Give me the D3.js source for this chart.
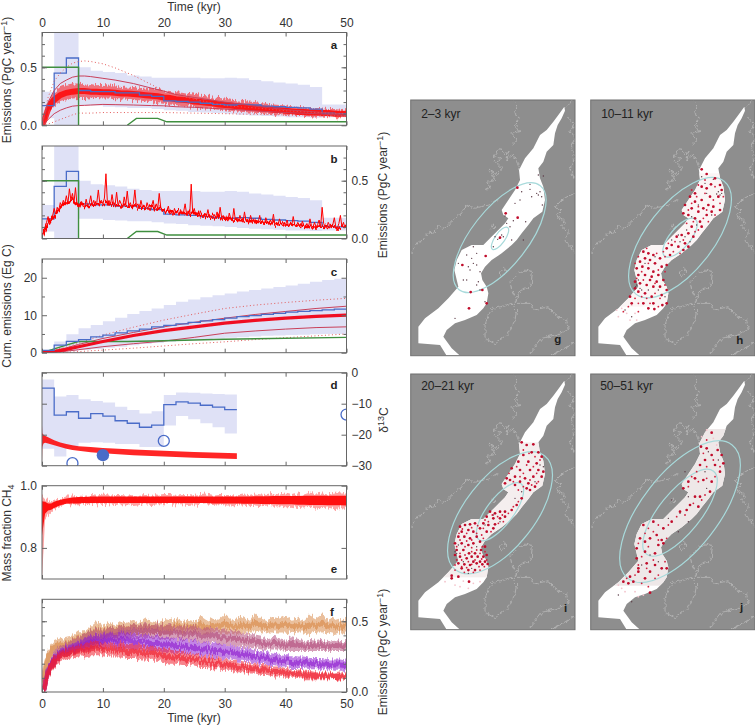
<!DOCTYPE html>
<html>
<head>
<meta charset="utf-8">
<script src="https://cdn.jsdelivr.net/npm/d3@7"></script>
<style>
  html, body { margin: 0; padding: 0; background: #fff; }
  svg text { font-family: "Liberation Sans", Arial, sans-serif; font-size: 12px; fill: #333; }
  svg text.letter { font-weight: bold; font-size: 11.5px; fill: #222; }
</style>
</head>
<body>
<svg id="chart" width="755" height="725">
  <defs>
    <!-- streaky texture so the ensemble bands read as many overlaid runs -->
    <filter id="fuzz" x="-5%" y="-30%" width="110%" height="160%" color-interpolation-filters="sRGB">
      <feTurbulence type="fractalNoise" baseFrequency="0.6 0.04" numOctaves="2" seed="4" result="n"/>
      <feColorMatrix in="n" type="matrix" values="0 0 0 0 0.5  1 0 0 0 0  0 0 0 0 0.5  0 0 0 0 1" result="m"/>
      <feDisplacementMap in="SourceGraphic" in2="m" scale="10" xChannelSelector="R" yChannelSelector="G"/>
      <feGaussianBlur stdDeviation="0.5"/>
    </filter>
    <filter id="jag" x="-5%" y="-5%" width="110%" height="110%" color-interpolation-filters="sRGB">
      <feTurbulence type="fractalNoise" baseFrequency="0.3" numOctaves="2" seed="9" result="n"/>
      <feDisplacementMap in="SourceGraphic" in2="n" scale="5" xChannelSelector="R" yChannelSelector="G"/>
      <feGaussianBlur stdDeviation="0.3"/>
    </filter>
    <filter id="soft"><feGaussianBlur stdDeviation="0.6"/></filter>
    <filter id="dot" x="-5%" y="-5%" width="110%" height="110%"><feGaussianBlur stdDeviation="0.3"/></filter>
  </defs>
</svg>
<script>
// time bins, 2 kyr wide (last one repeated so the step curves close at 50)
const bins = d3.range(0, 52, 2);
const dBins = d3.range(0, 34, 2);

const emisBandHi = [.29,.8,.8,.5,.47,.46,.45,.43,.42,.41,.41,.41,.41,.405,.405,.41,.405,.39,.38,.37,.36,.35,.33,.18,.18,.18];
const emisBandLo = [.06,0,0,.17,.17,.16,.155,.15,.15,.14,.13,.125,.115,.11,.105,.1,.09,.085,.08,.075,.07,.07,.065,.07,.07,.07];
const emisBlue = [.17,.45,.58,.3,.29,.29,.28,.28,.26,.25,.21,.205,.2,.19,.18,.175,.18,.175,.165,.16,.155,.15,.14,.105,.1,.1];

const greenT = [0,6,6];
const greenV = [.5,.5,0];
const greenT2 = [14,15.5,19,20.5,50];
const greenV2 = [0,.06,.06,.03,.03];

// model percentiles in panel a
const pctT = [0,.5,1,2,3,4,5,6,7,8,10,12,15,18,20,22,25,30,35,40,45,50];
const pctHi = [0,.1,.2,.3,.36,.39,.415,.425,.425,.42,.405,.39,.36,.32,.295,.265,.24,.2,.165,.135,.115,.095];
const pctLo = [0,.02,.05,.1,.13,.15,.165,.17,.172,.175,.18,.178,.175,.17,.168,.16,.155,.14,.125,.11,.1,.085];
const dotHi = [0,.13,.24,.38,.45,.5,.535,.55,.555,.55,.53,.495,.43,.35,.295,.26,.225,.17,.15,.125,.11,.1];
const dotLo = [0,.005,.01,.03,.05,.07,.09,.105,.105,.105,.11,.11,.11,.11,.11,.108,.105,.1,.095,.09,.085,.08];

// shared time grid of the fuzzy ensemble bands
const grid = [0,.5,1,1.5,2].concat(d3.range(3, 51));
const emisHi = [0,.1,.2,.25,.29,.33,.35,.36,.36,.35,.355,.345,.35,.34,.345,.33,.335,.33,.32,.325,.31,.315,.3,.295,.285,.28,.27,.265,.255,.25,.24,.235,.23,.22,.215,.21,.205,.2,.19,.185,.18,.175,.17,.165,.16,.155,.15,.15,.145,.14,.14,.135,.13];
const emisLo = [0,.03,.1,.14,.17,.2,.215,.23,.235,.235,.23,.235,.23,.23,.225,.225,.22,.215,.215,.205,.2,.19,.185,.18,.175,.165,.165,.155,.15,.145,.14,.135,.13,.125,.12,.115,.11,.105,.105,.1,.095,.09,.09,.085,.08,.08,.075,.075,.075,.07,.07,.07,.065];
const emisCore = [0,.06,.14,.19,.22,.26,.28,.29,.295,.295,.29,.29,.285,.285,.28,.275,.275,.27,.265,.26,.255,.25,.24,.235,.225,.22,.215,.205,.2,.195,.19,.18,.175,.17,.165,.16,.155,.15,.145,.14,.135,.13,.125,.12,.115,.115,.11,.11,.105,.105,.1,.1,.1];

// single run in panel b, one value every 0.25 kyr
const runStep = 0.25;
const runValues = [
  0,.06,.1,.14,.19,.12,.17,.2,.26,.21,.27,.24,.31,.28,.33,.3,.37,.3,.43,.33,
  .39,.31,.44,.29,.3,.27,.32,.28,.27,.34,.28,.3,.37,.29,.33,.28,.31,.42,.3,.33,
  .3,.35,.56,.3,.33,.29,.38,.3,.29,.4,.28,.33,.3,.27,.36,.29,.41,.28,.31,.27,
  .3,.42,.28,.3,.26,.33,.27,.29,.25,.31,.27,.24,.28,.33,.25,.3,.26,.39,.27,.23,
  .25,.22,.24,.28,.21,.23,.2,.26,.22,.24,.2,.25,.21,.23,.3,.21,.24,.2,.47,.22,
  .26,.2,.22,.19,.24,.2,.18,.22,.19,.25,.18,.2,.17,.21,.18,.23,.17,.27,.18,.2,
  .16,.19,.15,.22,.17,.15,.26,.16,.18,.15,.2,.16,.14,.23,.15,.17,.14,.2,.15,.17,
  .13,.16,.14,.2,.13,.15,.12,.18,.14,.12,.16,.13,.21,.12,.14,.11,.17,.13,.11,.14,
  .12,.16,.1,.13,.11,.19,.12,.1,.14,.11,.09,.15,.11,.1,.13,.09,.17,.11,.1,.14,
  .1,.12,.16,.1,.27,.13,.1,.09,.14,.11,.09,.12,.18,.1,.09,.13,.2,.1,.14,.09,.11
];
const runBaseT = [0,1,2,3,4,5,6,8,10,12,15,18,20,22,25,28,30,33,36,40,44,47,50];
const runBase = [.02,.13,.2,.26,.31,.33,.29,.29,.3,.29,.28,.265,.25,.23,.21,.185,.17,.155,.14,.12,.105,.1,.09];

// panel c, cumulative emissions
const cumBandHi = [.7,3,4.9,6.5,7.4,8.4,9.3,10.3,11.1,11.8,12.7,13.6,14.2,14.8,15.3,15.8,16.3,16.7,17.1,17.5,17.9,18.4,18.9,19.4,19.7,19.7];
const cumBandLo = [0,.1,.4,.7,1,1.3,1.6,2,2.3,2.6,2.9,3.2,3.4,3.6,3.8,4,4.1,4.3,4.5,4.6,4.7,4.8,4.9,5,5,5];
const cumBlue = [.6,2,3,3.5,4.2,4.7,5.3,5.8,6.3,6.9,7.3,7.7,8.1,8.5,8.8,9.2,9.6,9.9,10.2,10.5,10.8,11,11.2,11.4,11.6,11.6];
const cumT = [0,2,4,6,10,15,20,25,30,35,40,45,50];
const cumRed = [0,.3,.9,1.6,3,4.6,5.9,6.9,7.9,8.6,9.2,9.7,10];
const cumPctHi = [0,.5,1.3,2.2,3.8,5.4,6.9,8.1,9.2,10.2,11,11.8,12.4];
const cumPctLo = [0,.1,.4,.8,1.6,2.4,3.1,4.1,5.2,5.8,6.3,6.7,6.9];
const cumDotHi = [0,.7,1.5,2.5,4.7,6.8,8.7,10.3,11.8,12.7,13.4,14,14.5];
const cumDotLo = [0,0,.1,.3,.7,1.2,1.8,2.4,2.9,3.5,4,4.5,5];
const cumGreenT = [0,2,4,6,8,14,16,20,30,50];
const cumGreenV = [0,1,2,3,3,3,3.05,3.2,3.6,4.1];

// panel d, carbon isotopes
const isoBandHi = [-2.2,-7.7,-7.2,-8.6,-9.1,-9.6,-11,-12,-13.2,-12.4,-7.2,-6.4,-6.5,-6.7,-6.9,-7,-7];
const isoBandLo = [-24.5,-27,-24,-22.6,-22.4,-22.6,-23,-23,-24,-24,-17,-14,-15,-16.3,-17.6,-19.6,-19.6];
const isoBlue = [-5,-13.7,-12.6,-14.7,-13.2,-14,-15.5,-16.3,-17.6,-16.9,-10.3,-9.4,-9.8,-10.5,-11.1,-11.9,-11.9];
const isoT = [0,.05,.25,.5,1,2,3,4,5,6,8,10,15,20,25,32];
const isoHi = [-17,-19.5,-20,-20.3,-20.8,-21.8,-22.5,-23,-23.4,-23.7,-24,-24.3,-24.8,-25.2,-25.6,-26];
const isoLo = [-29,-24,-22.8,-22.6,-22.8,-23.4,-24,-24.5,-24.9,-25.2,-25.7,-26,-26.6,-27,-27.4,-27.8];
const openCircles = [[5,-29.2],[20,-22],[50,-13.5]];
const filledCircles = [[10,-26.6]];

// panel e, mass fraction
const fracHi = [.97,.96,.95,.95,.955,.96,.965,.965,.968,.968,.97,.968,.972,.968,.97,.97,.968,.97,.968,.97,.972,.968,.97,.97,.968,.97,.97,.968,.97,.972,.968,.97,.97,.97,.968,.972,.97,.975,.972,.97,.975,.972,.975,.97,.975,.972,.978,.972,.975,.972,.978,.975,.975];
const fracLo = [.7,.89,.905,.915,.925,.935,.94,.94,.94,.942,.94,.94,.938,.94,.938,.94,.94,.938,.94,.94,.938,.94,.94,.938,.94,.94,.938,.94,.938,.94,.938,.94,.936,.936,.938,.936,.934,.936,.934,.936,.932,.934,.93,.932,.928,.93,.932,.926,.928,.93,.924,.928,.925];
const fracCoreHi = [.95,.948,.943,.943,.948,.955,.959,.962,.964,.964,.965,.965,.965,.965,.965,.965,.965,.965,.965,.965,.965,.965,.965,.965,.965,.965,.965,.965,.965,.965,.965,.965,.965,.965,.965,.965,.965,.966,.966,.966,.967,.967,.967,.967,.967,.968,.968,.968,.968,.968,.968,.968,.968];
const fracCoreLo = [.84,.91,.92,.923,.928,.937,.942,.943,.943,.944,.944,.944,.944,.944,.944,.944,.944,.944,.944,.944,.944,.944,.944,.944,.944,.944,.944,.944,.944,.944,.943,.943,.943,.943,.943,.942,.942,.942,.941,.941,.941,.94,.94,.94,.939,.939,.938,.938,.938,.937,.937,.937,.936];

// panel f, four ensembles
const orangeHi = [.1,.22,.3,.33,.36,.38,.39,.4,.43,.43,.46,.5,.47,.49,.47,.5,.49,.51,.49,.52,.5,.49,.51,.5,.52,.5,.51,.5,.53,.5,.52,.51,.55,.51,.52,.53,.5,.56,.52,.5,.53,.52,.54,.51,.52,.5,.54,.52,.55,.51,.53,.5,.52];
const orangeLo = [.05,.12,.2,.25,.27,.29,.3,.31,.33,.35,.36,.38,.39,.4,.4,.41,.4,.41,.41,.4,.41,.41,.41,.41,.42,.41,.42,.41,.42,.41,.42,.42,.42,.42,.41,.42,.42,.42,.43,.42,.42,.42,.42,.41,.42,.42,.41,.42,.42,.42,.41,.42,.42];
const mauveHi = [0,.1,.2,.25,.29,.33,.35,.37,.39,.41,.43,.45,.44,.46,.45,.47,.46,.48,.47,.49,.47,.48,.47,.48,.46,.47,.46,.47,.45,.46,.45,.44,.45,.43,.44,.42,.41,.4,.39,.38,.39,.38,.37,.38,.37,.36,.37,.36,.37,.36,.37,.36,.36];
const mauveLo = [0,.03,.1,.15,.19,.23,.25,.27,.28,.3,.31,.33,.34,.36,.36,.37,.37,.38,.38,.38,.38,.38,.37,.37,.37,.36,.36,.36,.35,.35,.35,.34,.33,.33,.32,.32,.31,.31,.3,.3,.3,.3,.29,.29,.29,.29,.29,.29,.29,.29,.29,.29,.29];
const purpleHi = [0,.08,.19,.24,.27,.31,.33,.34,.36,.38,.39,.41,.42,.42,.41,.42,.41,.41,.4,.41,.39,.4,.38,.39,.37,.38,.36,.37,.35,.36,.34,.35,.33,.33,.32,.31,.31,.29,.29,.28,.27,.27,.26,.26,.25,.25,.24,.24,.24,.23,.23,.23,.22];
const purpleLo = [0,.02,.1,.15,.19,.23,.26,.27,.28,.29,.3,.31,.31,.32,.31,.31,.31,.3,.3,.3,.29,.29,.28,.28,.27,.27,.26,.26,.25,.25,.24,.24,.23,.23,.22,.22,.21,.2,.2,.19,.19,.18,.18,.17,.17,.17,.16,.16,.16,.16,.15,.15,.15];
const redHi = [0,.08,.18,.23,.26,.29,.31,.32,.33,.34,.35,.36,.35,.35,.34,.35,.33,.34,.33,.32,.33,.31,.31,.3,.29,.29,.27,.27,.26,.25,.25,.24,.23,.22,.22,.21,.2,.2,.19,.19,.18,.18,.17,.16,.16,.15,.15,.14,.14,.14,.13,.14,.13];
const redLo = [0,.02,.09,.14,.18,.21,.23,.24,.25,.25,.26,.26,.26,.25,.25,.25,.24,.24,.23,.23,.22,.22,.21,.2,.2,.19,.19,.18,.17,.17,.16,.16,.15,.15,.14,.14,.13,.13,.12,.12,.11,.11,.1,.1,.1,.09,.09,.09,.09,.09,.09,.08,.08];

// map panels, all positions in the same map units
const shelfOutline = [[478,50],[480,62],[470,85],[458,105],[450,130],[445,165],[425,185],[415,215],[400,235],[405,265],[415,290],[420,330],[412,365],[385,385],[370,405],[350,430],[335,450],[320,465],[290,490],[260,510],[240,530],[228,550],[232,570],[245,590],[250,610],[245,640],[235,655],[215,675],[180,690],[150,700],[125,720],[115,740],[140,775],[165,797],[125,797],[105,765],[40,760],[40,710],[60,685],[100,655],[130,625],[160,590],[148,540],[155,510],[170,480],[200,465],[235,465],[255,445],[280,420],[300,400],[310,385],[295,375],[290,360],[310,330],[330,300],[345,270],[342,240],[360,205],[385,175],[405,135],[425,120],[445,95],[460,75]];
const coastLines = [
  [[17,490],[28,470],[40,452],[50,458],[60,440],[75,425],[85,430],[100,405],[112,415],[125,412],[140,395],[150,385],[165,375],[180,350],[190,345],[210,355],[228,350],[250,345],[265,335],[282,325]],
  [[240,300],[258,290],[245,278],[270,270],[255,240],[275,255],[290,235],[270,215],[290,205],[265,200],[285,175],[300,195],[312,180],[305,215],[322,190],[335,215],[345,240]],
  [[320,165],[335,150],[318,130],[345,125],[330,105],[342,85],[328,65],[335,45],[325,32]],
  [[510,30],[490,42],[470,62]],
  [[510,310],[490,318],[470,330],[450,352],[470,360],[455,378],[478,392],[470,410],[490,425],[480,450],[498,470],[510,488]],
  [[490,85],[510,100],[495,125],[510,145],[498,175],[510,200],[495,235],[508,265]],
  [[240,705],[250,675],[262,655],[290,650],[320,640],[335,660],[330,690],[310,730],[270,762],[240,745],[240,705]],
  [[335,552],[360,540],[382,545],[378,590],[345,602],[330,640],[375,640],[388,660],[430,650],[455,680],[485,690],[490,720],[450,735],[410,745],[375,790]],
  [[282,548],[298,530],[302,548],[288,558],[282,548]],
  [[330,560],[315,575],[320,600],[330,620]],
  [[262,402],[270,412],[258,418],[262,402]],
  [[510,755],[470,780],[435,797]]
];

const gEllipses = [[284,443,198,85,-52],[285,445,40,15,-55]];
const hEllipses = [[825,443,215,100,-52],[825,443,72,30,-50]];
const iEllipses = [[285,443,217,105,-52],[285,440,105,40,-53]];
const jEllipses = [[825,440,254,115,-52],[825,443,160,62,-51]];

const gBig = [[337,293],[302,370],[338,383],[172,525],[242,498],[197,606],[232,600],[245,640],[192,655],[285,443]];
const gMid = [];
const gSmall = [[375,283],[400,255],[415,258],[375,298],[345,330],[330,340],[300,378],[305,400],[325,392],[362,395],[350,305],[380,320],[400,315],[405,305],[395,310],[410,320],[412,345],[320,450],[315,410],[290,435],[283,445],[278,448],[295,440],[205,470],[215,490],[185,495],[205,520],[190,530],[160,520],[195,540],[225,545],[185,570],[220,575],[215,585],[175,570],[150,685],[265,470],[240,635],[270,440],[225,600],[355,450],[200,505],[215,525]];
const gPale = [];
const hBig = [[890,238],[905,252],[930,265],[945,285],[918,283],[905,295],[890,290],[870,310],[855,320],[840,345],[870,335],[890,330],[910,345],[925,350],[940,320],[950,300],[915,320],[895,355],[880,365],[860,355],[835,370],[850,375],[885,395],[870,385],[905,375],[920,365],[945,360],[890,410],[860,410],[850,430],[865,440],[830,435],[815,440],[800,465],[785,475],[795,495],[820,470],[840,460],[850,470],[835,480],[715,485],[730,490],[745,495],[720,505],[705,515],[735,510],[750,520],[765,505],[695,535],[712,530],[730,535],[745,545],[770,530],[785,525],[700,555],[720,555],[740,560],[760,555],[775,570],[690,575],[705,580],[725,585],[745,590],[765,590],[785,600],[700,605],[720,610],[740,620],[770,615],[690,595],[735,570],[755,575],[680,640],[675,620],[730,655],[748,657],[772,645],[785,640],[715,640],[745,640]];
const hMid = [[860,300],[880,285],[900,270],[930,290],[955,320],[945,340],[875,320],[900,310],[925,330],[860,340],[850,360],[880,350],[905,360],[930,375],[910,395],[895,385],[865,395],[880,420],[870,425],[845,400],[835,450],[810,455],[790,460],[775,485],[780,500],[805,485],[825,490],[700,500],[725,475],[755,490],[690,520],[710,545],[730,520],[760,540],[780,545],[695,565],[715,570],[750,580],[780,585],[710,620],[750,610],[765,625],[725,625],[700,640],[690,625],[760,650],[735,640],[670,650],[655,665],[700,665]];
const hSmall = [[925,268],[940,305],[945,315],[950,310],[935,312],[905,310],[880,345],[920,375],[860,380],[840,440],[855,455],[825,455],[845,420],[700,570],[695,585],[692,590],[710,600],[705,595],[720,520],[750,500],[760,600],[730,600],[780,620],[680,680],[660,660],[875,405],[820,435],[800,450],[890,260],[900,280]];
const hPale = [[650,655],[665,670],[640,680],[690,670],[680,645],[675,690],[695,690],[635,660]];
const iBig = [[350,232],[365,240],[385,238],[380,262],[400,262],[410,275],[355,270],[340,290],[370,290],[395,295],[320,310],[345,315],[375,315],[400,315],[415,320],[305,340],[330,335],[360,340],[385,335],[410,335],[345,350],[370,355],[390,365],[375,375],[365,370],[315,345],[330,360],[300,355],[350,400],[335,420],[320,435],[300,440],[285,440],[270,445],[255,440],[245,455],[265,460],[285,460],[300,455],[235,475],[250,480],[270,478],[225,490],[245,500],[265,490],[165,485],[180,480],[195,478],[210,475],[170,500],[190,495],[205,500],[160,515],[178,515],[195,520],[215,515],[150,535],[170,535],[190,540],[205,535],[225,530],[155,555],[175,555],[192,565],[210,565],[228,555],[240,545],[150,570],[165,575],[185,580],[200,575],[218,575],[235,575],[160,595],[178,598],[195,600],[215,595],[232,598],[248,597],[240,590],[205,590],[225,590],[245,570],[190,615],[170,610],[210,615],[140,632],[160,635],[192,650],[140,640]];
const iMid = [[172,492],[200,488],[218,482],[185,505],[162,505],[215,505],[230,510],[165,525],[185,528],[200,525],[235,520],[155,545],[180,545],[200,548],[215,555],[232,545],[165,565],[180,570],[200,560],[225,565],[240,560],[155,585],[170,585],[190,590],[210,585],[230,582],[245,585],[150,600],[170,605],[185,608],[200,598],[222,605],[238,605],[150,615],[178,622],[205,622],[225,615],[355,255],[372,265],[390,275],[365,300],[385,305],[405,285],[335,305],[355,325],[395,325],[312,325],[325,350],[345,335],[375,345],[400,350],[355,365],[395,355],[380,360],[340,375],[340,410],[325,425],[310,445],[292,450],[278,455],[262,450],[250,470],[235,490],[258,500],[280,475],[295,470],[240,465]];
const iSmall = [[405,300],[415,305],[285,440],[390,350],[150,560],[155,565],[175,590],[200,610],[190,625],[265,450],[350,380],[330,400],[285,470],[240,480],[160,540],[215,545]];
const iPale = [[165,665],[120,650],[190,670],[205,655],[150,660],[225,650],[175,648]];
const jBig = [[920,203],[888,245],[905,250],[938,255],[950,270],[920,270],[900,285],[955,295],[930,300],[885,300],[870,340],[850,350],[835,370],[895,345],[920,350],[945,320],[915,380],[885,395],[870,395],[855,420],[845,435],[880,425],[825,440],[800,470],[775,490],[745,470],[715,480],[705,520],[720,530],[735,520],[770,525],[755,510],[775,535],[695,550],[720,560],[750,565],[695,580],[725,595],[750,600],[770,610],[735,620],[785,610],[700,620],[675,635],[655,650],[685,650],[720,640],[735,683],[670,655],[700,610],[760,540]];
const jMid = [[905,225],[895,265],[925,285],[945,305],[905,305],[875,320],[860,335],[850,365],[880,350],[905,340],[930,335],[900,390],[890,405],[865,415],[840,450],[815,455],[790,480],[760,480],[730,490],[720,505],[745,500],[700,535],[730,545],[760,525],[785,520],[710,575],[745,585],[700,600],[725,610],[760,630],[690,630],[665,640],[710,655],[750,640],[780,590],[730,665]];
const jSmall = [[680,710],[640,690],[900,320],[910,260],[940,285],[840,320],[850,395],[850,470],[820,500],[760,590],[790,460],[710,600],[735,570],[905,370],[825,445],[800,405]];
const jPale = [[640,660],[690,680],[660,680],[715,690],[905,195],[890,215],[925,220],[650,670],[700,695],[935,240]];

const lavender = "#dfe1f6", blue = "#4a6cc8", green = "#3f8f3f", red = "#ff0000", pct = "#c8405a";
const plotLeft = 42, plotRight = 346.5;
const svg = d3.select("#chart");
const defs = svg.select("defs");

const xTime = d3.scaleLinear().domain([0, 50]).range([0, plotRight - plotLeft]);

function zip(xs, ys) {
  return xs.map((t, i) => ({ t: t, v: ys[i] }));
}

function makePanel(id, top, bottom, domain) {
  const h = bottom - top;
  const y = d3.scaleLinear().domain(domain).range([h, 0]);
  const g = svg.append("g").attr("transform", `translate(${plotLeft},${top})`);
  defs.append("clipPath").attr("id", "clip-" + id)
    .append("rect").attr("width", xTime.range()[1]).attr("height", h);
  const body = g.append("g").attr("clip-path", `url(#clip-${id})`);
  const line = d3.line().x((d) => xTime(d.t)).y((d) => y(d.v));
  return { g, body, y, h, line };
}

function finishAxes(p, opt) {
  const w = xTime.range()[1];
  const clean = (a) => {
    a.select(".domain").remove();
    a.selectAll("line").attr("stroke", "#666");
    return a;
  };
  // x ticks every 10 kyr, inward on both edges
  const top = clean(p.g.append("g").call(d3.axisTop(xTime).tickValues(d3.range(0, 51, 10)).tickSize(-4)
    .tickFormat(opt.topLabels ? d3.format("d") : "")));
  const bot = clean(p.g.append("g").attr("transform", `translate(0,${p.h})`)
    .call(d3.axisBottom(xTime).tickValues(d3.range(0, 51, 10)).tickSize(-4)
      .tickFormat(opt.bottomLabels ? d3.format("d") : "")));
  top.selectAll("text").attr("y", -5.5);
  bot.selectAll("text").attr("y", 7);

  const minor = opt.minor || [];
  clean(p.g.append("g").call(d3.axisLeft(p.y).tickValues(minor).tickSize(-3).tickFormat("")));
  clean(p.g.append("g").attr("transform", `translate(${w},0)`)
    .call(d3.axisRight(p.y).tickValues(minor).tickSize(-3).tickFormat("")));
  const left = clean(p.g.append("g").call(d3.axisLeft(p.y).tickValues(opt.major).tickSize(-5)
    .tickFormat(opt.side === "left" ? opt.fmt : "")));
  const right = clean(p.g.append("g").attr("transform", `translate(${w},0)`)
    .call(d3.axisRight(p.y).tickValues(opt.major).tickSize(-5)
      .tickFormat(opt.side === "right" ? opt.fmt : "")));
  left.selectAll("text").attr("x", -5);
  right.selectAll("text").attr("x", 5);

  p.g.append("rect").attr("width", w).attr("height", p.h)
    .attr("fill", "none").attr("stroke", "#666").attr("stroke-width", 1);

  p.g.selectAll(".tick text").style("font-size", "12px");
  svg.append("text").attr("class", "letter")
    .attr("x", opt.letterX).attr("y", opt.letterY).attr("text-anchor", "middle").text(opt.letter);
}

function stepBand(p, ts, hi, lo) {
  p.body.append("path")
    .datum(ts.map((t, i) => ({ t, hi: hi[i], lo: lo[i] })))
    .attr("fill", lavender)
    .attr("d", d3.area().curve(d3.curveStepAfter).x((d) => xTime(d.t)).y0((d) => p.y(d.lo)).y1((d) => p.y(d.hi)));
}

function stepLine(p, ts, vals) {
  p.body.append("path").datum(zip(ts, vals))
    .attr("fill", "none").attr("stroke", blue).attr("stroke-width", 1.3)
    .attr("d", d3.line().curve(d3.curveStepAfter).x((d) => xTime(d.t)).y((d) => p.y(d.v)));
}

function plainLine(p, ts, vals, color, width, dash, opacity, filter) {
  p.body.append("path").datum(zip(ts, vals))
    .attr("fill", "none").attr("stroke", color).attr("stroke-width", width)
    .attr("stroke-dasharray", dash || null).attr("opacity", opacity === undefined ? 1 : opacity)
    .attr("filter", filter ? `url(#${filter})` : null)
    .attr("d", p.line);
}

function fuzzyBand(p, ts, hi, lo, color, opacity, filter) {
  p.body.append("path")
    .datum(ts.map((t, i) => ({ t, hi: hi[i], lo: lo[i] })))
    .attr("fill", color).attr("opacity", opacity).attr("filter", `url(#${filter || "fuzz"})`)
    .attr("d", d3.area().x((d) => xTime(d.t)).y0((d) => p.y(d.lo)).y1((d) => p.y(d.hi)));
}

// a
const pa = makePanel("a", 32.5, 125.3, [0, .8]);
stepBand(pa, bins, emisBandHi, emisBandLo);
fuzzyBand(pa, grid, emisHi, emisLo, red, .5);
plainLine(pa, grid, emisCore, red, 6, null, .8, "soft");
stepLine(pa, bins, emisBlue);
plainLine(pa, pctT, pctHi, pct, 1);
plainLine(pa, pctT, pctLo, pct, 1);
plainLine(pa, pctT, dotHi, "#e25a5a", 1, "1,2.5");
plainLine(pa, pctT, dotLo, "#e25a5a", 1, "1,2.5");
plainLine(pa, greenT, greenV, green, 1.4);
plainLine(pa, greenT2, greenV2, green, 1.4);
finishAxes(pa, { major: [0, .5], minor: d3.range(.1, .8, .1), fmt: d3.format(".1f"), side: "left", topLabels: true, letter: "a", letterX: 334, letterY: 49 });

// b
const pb = makePanel("b", 146, 238.5, [0, .8]);
stepBand(pb, bins, emisBandHi, emisBandLo);
stepLine(pb, bins, emisBlue);
plainLine(pb, greenT, greenV, green, 1.4);
plainLine(pb, greenT2, greenV2, green, 1.4);
plainLine(pb, runBaseT, runBase, red, 2.5, null, 1, "fuzz");
plainLine(pb, runValues.map((v, i) => i * runStep), runValues, red, 1);
finishAxes(pb, { major: [0, .5], minor: d3.range(.1, .8, .1), fmt: d3.format(".1f"), side: "right", letter: "b", letterX: 334, letterY: 163 });

// c
const pc = makePanel("c", 259, 352.7, [0, 25]);
stepBand(pc, bins, cumBandHi, cumBandLo);
plainLine(pc, cumT, cumPctHi, pct, 1);
plainLine(pc, cumT, cumPctLo, pct, 1);
plainLine(pc, cumT, cumDotHi, "#e25a5a", 1, "1,2.5");
plainLine(pc, cumT, cumDotLo, "#e25a5a", 1, "1,2.5");
plainLine(pc, cumGreenT, cumGreenV, green, 1.4);
plainLine(pc, cumT, cumRed, "#f01020", 3.2, null, 1, "soft");
stepLine(pc, bins, cumBlue);
finishAxes(pc, { major: [0, 10, 20], minor: [5, 15], fmt: d3.format("d"), side: "left", letter: "c", letterX: 334, letterY: 276 });

// d
const pd = makePanel("d", 372.7, 465.7, [-30, 0]);
stepBand(pd, dBins, isoBandHi, isoBandLo);
fuzzyBand(pd, isoT, isoHi, isoLo, red, .85, "soft");
stepLine(pd, dBins, isoBlue);
pd.body.selectAll(".open").data(openCircles).enter().append("circle")
  .attr("cx", (d) => xTime(d[0])).attr("cy", (d) => pd.y(d[1])).attr("r", 5.5)
  .attr("fill", "none").attr("stroke", blue).attr("stroke-width", 1.3);
pd.body.selectAll(".full").data(filledCircles).enter().append("circle")
  .attr("cx", (d) => xTime(d[0])).attr("cy", (d) => pd.y(d[1])).attr("r", 6.2)
  .attr("fill", blue);
finishAxes(pd, { major: [-30, -20, -10, 0], fmt: (d) => String(d).replace("-", "\u2212"), side: "right", letter: "d", letterX: 334, letterY: 389 });

// e
const pe = makePanel("e", 485.7, 579, [.7, 1]);
fuzzyBand(pe, grid, fracHi, fracLo, red, .35);
fuzzyBand(pe, grid, fracCoreHi, fracCoreLo, red, .9, "soft");
finishAxes(pe, { major: [.8, 1], fmt: d3.format(".1f"), side: "left", letter: "e", letterX: 334, letterY: 573 });

// f
const pf = makePanel("f", 599.3, 692, [0, .655]);
const ensembles = [
  [orangeHi, orangeLo, "#d98a4c"],
  [mauveHi, mauveLo, "#b4507e"],
  [purpleHi, purpleLo, "#9020d0"],
  [redHi, redLo, "#f0202f"]
];
ensembles.forEach((e) => {
  fuzzyBand(pf, grid, e[0], e[1], e[2], .55);
  plainLine(pf, grid, e[0].map((v, i) => (v + e[1][i]) / 2), e[2], 5, null, .65, "fuzz");
});
finishAxes(pf, { major: [0, .5], minor: d3.range(.1, .65, .1), fmt: d3.format(".1f"), side: "right", bottomLabels: true, letter: "f", letterX: 332, letterY: 616 });

// axis titles
function rotated(x, y, build) {
  const t = svg.append("text").attr("transform", `translate(${x},${y}) rotate(-90)`).attr("text-anchor", "middle");
  build(t);
}
function emissionsTitle(t) {
  t.append("tspan").text("Emissions (PgC year");
  t.append("tspan").attr("dy", -4).style("font-size", "9px").text("\u22121");
  t.append("tspan").attr("dy", 4).text(")");
}
svg.append("text").attr("x", 194).attr("y", 10.5).attr("text-anchor", "middle").text("Time (kyr)");
svg.append("text").attr("x", 194).attr("y", 722).attr("text-anchor", "middle").text("Time (kyr)");
rotated(11, 80, emissionsTitle);
rotated(387, 195, emissionsTitle);
rotated(387, 652, emissionsTitle);
rotated(11, 306, (t) => t.text("Cum. emissions (Eg C)"));
rotated(11, 533, (t) => {
  t.append("tspan").text("Mass fraction CH");
  t.append("tspan").attr("dy", 3).style("font-size", "9px").text("4");
});
rotated(388, 420, (t) => {
  t.append("tspan").text("\u03b4");
  t.append("tspan").attr("dy", -4).style("font-size", "9px").text("13");
  t.append("tspan").attr("dy", 4).text("C");
});

// maps
const mapPanels = [
  { id: "g", left: 410.7, top: 100, dx: 0, dy: 0, label: "2\u20133 kyr", big: gBig, mid: gMid, small: gSmall, pale: gPale, rings: gEllipses, haze: null, labelX: 10.5, labelY: 18, letterX: 147, letterY: 243 },
  { id: "h", left: 590.7, top: 100, dx: 540, dy: 0, label: "10\u201311 kyr", big: hBig, mid: hMid, small: hSmall, pale: hPale, rings: hEllipses, haze: [[250, 650], "#fbf5f5"], labelX: 10.5, labelY: 18, letterX: 149, letterY: 244 },
  { id: "i", left: 410.7, top: 374, dx: 0, dy: 3, label: "20\u201321 kyr", big: iBig, mid: iMid, small: iSmall, pale: iPale, rings: iEllipses, haze: [[235, 640], "#f4eeee"], labelX: 10.5, labelY: 16, letterX: 155, letterY: 238 },
  { id: "j", left: 590.7, top: 374, dx: 540, dy: 3, label: "50\u201351 kyr", big: jBig, mid: jMid, small: jSmall, pale: jPale, rings: jEllipses, haze: [[195, 665], "#eee8e8"], labelX: 9.5, labelY: 16, letterX: 151, letterY: 237 }
];
const mapW = 164.3, mapH = 255.7;
const mapX = d3.scaleLinear().domain([17, 510]).range([0, mapW]);
const mapY = d3.scaleLinear().domain([30, 797]).range([0, mapH]);
const mapK = mapW / 493;
const coast = d3.line().x((d) => mapX(d[0])).y((d) => mapY(d[1]));

mapPanels.forEach((m) => {
  const g = svg.append("g").attr("transform", `translate(${m.left},${m.top})`);
  const shelfId = "shelf-" + m.id;
  defs.append("clipPath").attr("id", shelfId).append("path").attr("d", coast(shelfOutline) + "Z");
  defs.append("clipPath").attr("id", "frame-" + m.id).append("rect").attr("width", mapW).attr("height", mapH);

  const inner = g.append("g").attr("clip-path", `url(#frame-${m.id})`);
  inner.append("rect").attr("width", mapW).attr("height", mapH).attr("fill", "#8e8e8e");
  inner.append("g").attr("filter", "url(#jag)").selectAll("path").data(coastLines).enter().append("path")
    .attr("d", coast).attr("fill", "none").attr("stroke", "#b4b4b4").attr("stroke-width", 0.9);
  inner.append("path").attr("d", coast(shelfOutline) + "Z").attr("fill", "#fff");
  if (m.haze) {
    inner.append("rect").attr("clip-path", `url(#${shelfId})`)
      .attr("y", mapY(m.haze[0][0])).attr("width", mapW)
      .attr("height", mapY(m.haze[0][1]) - mapY(m.haze[0][0]))
      .attr("fill", m.haze[1]);
  }
  inner.selectAll(".ring").data(m.rings).enter().append("ellipse")
    .attr("transform", (d) => `translate(${mapX(d[0] - m.dx)},${mapY(d[1] + m.dy)}) rotate(${d[4]})`)
    .attr("rx", (d) => d[2] * mapK).attr("ry", (d) => d[3] * mapK)
    .attr("fill", "none").attr("stroke", "#a8dadb").attr("stroke-width", 1.2);
  const dots = inner.append("g").attr("filter", "url(#dot)");
  const addDots = (data, r, color) => dots.append("g").selectAll("circle").data(data).enter().append("circle")
    .attr("cx", (d) => mapX(d[0] - m.dx)).attr("cy", (d) => mapY(d[1] + m.dy)).attr("r", r).attr("fill", color);
  addDots(m.pale, 0.9, "#f3c4cc");
  addDots(m.small, 0.7, "#5a3a44");
  addDots(m.mid, 0.9, "#d0203e");
  addDots(m.big, 1.35, "#c00a2a");

  g.append("rect").attr("width", mapW).attr("height", mapH)
    .attr("fill", "none").attr("stroke", "#6e6e6e").attr("stroke-width", 1);
  g.append("text").attr("x", m.labelX).attr("y", m.labelY).style("fill", "#222").text(m.label);
  g.append("text").attr("class", "letter").attr("x", m.letterX).attr("y", m.letterY)
    .attr("text-anchor", "middle").text(m.id);
});
</script>
</body>
</html>
